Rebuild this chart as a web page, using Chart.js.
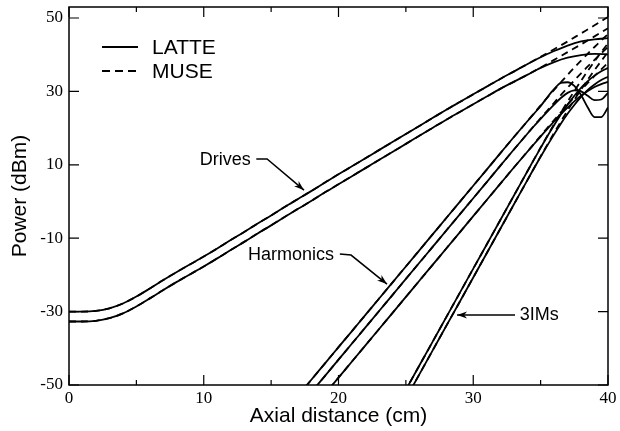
<!DOCTYPE html>
<html>
<head>
<meta charset="utf-8">
<script src="https://cdn.jsdelivr.net/npm/chart.js@4.4.0/dist/chart.umd.min.js"></script>
<style>
  body { margin: 0; background: #fff; }
  #wrap { width: 620px; height: 431px; }
</style>
</head>
<body>
<div id="wrap"><canvas id="chart" width="620" height="431"></canvas></div>
<script>
// data
const driveX = [0,1,2,3,4,5,6,7,8,9,10,11,12,13,14,15,16,17,18,19,20,21,22,23,24,25,26,27,28,29,30,31,32,33,34,35,36,37,38,39,40];
const latteDrive1 = [-30,-30,-29.8,-29.1,-27.8,-25.9,-23.7,-21.4,-19.2,-17.1,-15,-12.8,-10.5,-8.3,-6.0,-3.8,-1.5,0.7,2.9,5.2,7.4,9.6,11.8,14.0,16.2,18.4,20.6,22.8,25.0,27.1,29.2,31.3,33.4,35.4,37.4,39.3,41.0,42.5,43.6,44.2,44.5];
const latteDrive2 = [-32.7,-32.7,-32.5,-31.8,-30.5,-28.6,-26.4,-24.1,-21.9,-19.8,-17.7,-15.5,-13.2,-11.0,-8.7,-6.5,-4.2,-2.0,0.2,2.5,4.7,6.9,9.1,11.3,13.5,15.7,17.9,20.1,22.3,24.4,26.5,28.6,30.7,32.6,34.5,36.4,38.0,39.2,39.9,40.2,40.1];
const museDrive1 = [-30,-30,-29.8,-29.1,-27.8,-25.9,-23.7,-21.4,-19.2,-17.1,-15,-12.8,-10.5,-8.3,-6.0,-3.8,-1.5,0.7,2.9,5.2,7.4,9.6,11.8,14.0,16.2,18.4,20.6,22.8,25.0,27.1,29.2,31.3,33.4,35.4,37.4,39.4,41.5,43.6,45.8,48.0,50.3];
const museDrive2 = [-32.7,-32.7,-32.5,-31.8,-30.5,-28.6,-26.4,-24.1,-21.9,-19.8,-17.7,-15.5,-13.2,-11.0,-8.7,-6.5,-4.2,-2.0,0.2,2.5,4.7,6.9,9.1,11.3,13.5,15.7,17.9,20.1,22.3,24.4,26.5,28.6,30.7,32.6,34.5,36.5,38.6,40.7,42.8,45.0,47.2];

const harmX = [17,18,19,20,21,22,23,24,25,26,27,28,29,30,31,32,33,34,34.5,35,35.5,36,36.5,37,37.5,38,38.5,39,39.5,40];
const latteHarm1 = [-52.9,-48.5,-44.1,-39.7,-35.3,-30.9,-26.5,-22.1,-17.7,-13.3,-8.9,-4.5,-0.1,4.3,8.7,13.1,17.5,21.8,23.9,26.0,28.4,30.6,32.3,32.5,31.5,29.0,25.6,23.0,23.0,25.6];
const latteHarm2 = [-56.3,-51.9,-47.5,-43.1,-38.7,-34.3,-29.9,-25.5,-21.1,-16.7,-12.3,-7.9,-3.5,0.9,5.3,9.7,14.1,18.4,20.5,22.5,24.5,26.4,28.2,29.6,30.3,30.0,28.8,27.6,27.8,29.6];
const latteHarm3 = [-61.2,-56.8,-52.4,-48.0,-43.6,-39.2,-34.8,-30.4,-26.0,-21.6,-17.2,-12.8,-8.4,-4.0,0.4,4.8,9.2,13.5,15.6,17.7,19.8,21.8,23.8,25.6,27.3,28.8,30.1,31.2,32.0,32.6];
const museHarm1 = [-52.9,-48.5,-44.1,-39.7,-35.3,-30.9,-26.5,-22.1,-17.7,-13.3,-8.9,-4.5,-0.1,4.3,8.7,13.1,17.5,21.8,24.0,26.2,28.3,30.4,32.5,34.5,36.5,38.4,40.3,42.1,43.9,45.6];
const museHarm2 = [-56.3,-51.9,-47.5,-43.1,-38.7,-34.3,-29.9,-25.5,-21.1,-16.7,-12.3,-7.9,-3.5,0.9,5.3,9.7,14.1,18.4,20.6,22.7,24.8,26.9,29.0,31.0,33.0,34.9,36.8,38.6,40.4,42.1];
const museHarm3 = [-61.2,-56.8,-52.4,-48.0,-43.6,-39.2,-34.8,-30.4,-26.0,-21.6,-17.2,-12.8,-8.4,-4.0,0.4,4.8,9.2,13.5,15.7,17.9,20.1,22.2,24.3,26.4,28.4,30.4,32.3,34.2,36.0,37.8];

const imX = [24,25,26,27,28,29,30,31,32,33,34,34.5,35,35.5,36,36.5,37,37.5,38,38.5,39,39.5,40];
const latteIM1 = [-57.9,-51.3,-44.7,-38.1,-31.5,-24.9,-18.3,-11.7,-5.1,1.5,8.1,11.4,14.6,17.8,20.8,23.7,26.4,28.8,31.0,32.8,34.3,35.5,36.4];
const latteIM2 = [-60.3,-53.7,-47.1,-40.5,-33.9,-27.3,-20.7,-14.1,-7.5,-0.9,5.7,9.0,12.2,15.3,18.3,21.2,23.9,26.3,28.5,30.4,31.9,33.1,34.0];
const museIM1 = [-57.9,-51.3,-44.7,-38.1,-31.5,-24.9,-18.3,-11.7,-5.1,1.5,8.1,11.4,14.7,17.9,21.1,24.2,27.2,30.1,32.9,35.6,38.2,40.7,43.1];
const museIM2 = [-60.3,-53.7,-47.1,-40.5,-33.9,-27.3,-20.7,-14.1,-7.5,-0.9,5.7,9.0,12.3,15.5,18.7,21.8,24.8,27.7,30.5,33.2,35.8,38.3,40.7];

const xTicks = [0,10,20,30,40];
const xMinorTicks = [5,15,25,35];
const yTicks = [-50,-30,-10,10,30,50];

// helpers
function pts(xs, ys) {
  return xs.map((x, i) => ({ x: x, y: ys[i] }));
}

function line(xs, ys, dashed) {
  return {
    data: pts(xs, ys),
    borderColor: "#000",
    borderWidth: 1.8,
    borderDash: dashed ? [7, 5] : [],
    pointRadius: 0,
    fill: false,
    cubicInterpolationMode: "monotone",
  };
}

// frame, inward ticks, legend and labels
const decorations = {
  id: "decorations",
  afterDraw(chart) {
    const ctx = chart.ctx;
    const a = chart.chartArea;
    const xs = chart.scales.x;
    const ys = chart.scales.y;
    const px = (v) => xs.getPixelForValue(v);
    const py = (v) => ys.getPixelForValue(v);

    ctx.save();
    ctx.strokeStyle = "#000";
    ctx.fillStyle = "#000";
    ctx.lineWidth = 1.5;
    ctx.setLineDash([]);
    ctx.strokeRect(a.left, a.top, a.right - a.left, a.bottom - a.top);

    ctx.lineWidth = 1.2;
    ctx.beginPath();
    xTicks.forEach((v) => {
      ctx.moveTo(px(v), a.bottom); ctx.lineTo(px(v), a.bottom - 10);
      ctx.moveTo(px(v), a.top); ctx.lineTo(px(v), a.top + 10);
    });
    xMinorTicks.forEach((v) => {
      ctx.moveTo(px(v), a.bottom); ctx.lineTo(px(v), a.bottom - 5);
      ctx.moveTo(px(v), a.top); ctx.lineTo(px(v), a.top + 5);
    });
    yTicks.forEach((v) => {
      ctx.moveTo(a.left, py(v)); ctx.lineTo(a.left + 10, py(v));
      ctx.moveTo(a.right, py(v)); ctx.lineTo(a.right - 10, py(v));
    });
    ctx.stroke();

    // legend
    ctx.lineWidth = 1.8;
    ctx.beginPath();
    ctx.moveTo(a.left + 33, a.top + 40); ctx.lineTo(a.left + 69, a.top + 40);
    ctx.stroke();
    ctx.setLineDash([8, 5]);
    ctx.beginPath();
    ctx.moveTo(a.left + 33, a.top + 64); ctx.lineTo(a.left + 71, a.top + 64);
    ctx.stroke();
    ctx.setLineDash([]);
    ctx.font = "21px 'Liberation Sans', Arial, sans-serif";
    ctx.textAlign = "left";
    ctx.textBaseline = "middle";
    ctx.fillText("LATTE", a.left + 83, a.top + 41);
    ctx.fillText("MUSE", a.left + 83, a.top + 65);

    // annotations with arrows
    ctx.font = "18px 'Liberation Sans', Arial, sans-serif";
    ctx.textAlign = "center";
    ctx.fillText("Drives", px(11.6), py(11.3));
    ctx.fillText("Harmonics", px(16.47), py(-14.6));
    ctx.fillText("3IMs", px(34.9), py(-30.9));

    function arrow(path) {
      ctx.lineWidth = 1.5;
      ctx.beginPath();
      ctx.moveTo(px(path[0][0]), py(path[0][1]));
      for (let i = 1; i < path.length; i++) ctx.lineTo(px(path[i][0]), py(path[i][1]));
      ctx.stroke();
      const n = path.length;
      const x1 = px(path[n - 2][0]), y1 = py(path[n - 2][1]);
      const x2 = px(path[n - 1][0]), y2 = py(path[n - 1][1]);
      const ang = Math.atan2(y2 - y1, x2 - x1);
      ctx.beginPath();
      ctx.moveTo(x2, y2);
      ctx.lineTo(x2 - 10 * Math.cos(ang) + 3.5 * Math.sin(ang), y2 - 10 * Math.sin(ang) - 3.5 * Math.cos(ang));
      ctx.lineTo(x2 - 7 * Math.cos(ang), y2 - 7 * Math.sin(ang));
      ctx.lineTo(x2 - 10 * Math.cos(ang) - 3.5 * Math.sin(ang), y2 - 10 * Math.sin(ang) + 3.5 * Math.cos(ang));
      ctx.closePath();
      ctx.fill();
    }
    arrow([[13.9, 11.6], [14.7, 11.6], [17.44, 3.1]]);
    arrow([[20.1, -14.3], [20.93, -14.6], [23.6, -22.5]]);
    arrow([[33.1, -30.9], [28.8, -30.9]]);
    ctx.restore();
  },
};

Chart.defaults.color = "#000";
Chart.defaults.animation = false;

new Chart(document.getElementById("chart"), {
  type: "line",
  data: {
    datasets: [
      line(driveX, museDrive1, true),
      line(driveX, museDrive2, true),
      line(harmX, museHarm1, true),
      line(harmX, museHarm2, true),
      line(harmX, museHarm3, true),
      line(imX, museIM1, true),
      line(imX, museIM2, true),
      line(driveX, latteDrive1, false),
      line(driveX, latteDrive2, false),
      line(harmX, latteHarm1, false),
      line(harmX, latteHarm2, false),
      line(harmX, latteHarm3, false),
      line(imX, latteIM1, false),
      line(imX, latteIM2, false),
    ],
  },
  options: {
    responsive: false,
    layout: { padding: { left: 0, right: 12, top: 7, bottom: 0 } },
    plugins: { legend: { display: false }, tooltip: { enabled: false } },
    scales: {
      x: {
        type: "linear",
        min: 0,
        max: 40,
        afterBuildTicks: (s) => { s.ticks = xTicks.map((v) => ({ value: v })); },
        afterFit: (s) => { s.height = 46; s.paddingLeft = 0; s.paddingRight = 0; },
        grid: { display: false, drawTicks: false },
        border: { display: false },
        ticks: { padding: 3, maxRotation: 0, font: { family: "'Liberation Serif', 'Times New Roman', serif", size: 17 } },
        title: { display: true, text: "Axial distance (cm)", font: { family: "'Liberation Sans', Arial, sans-serif", size: 21 }, padding: { top: 0, bottom: 2 } },
      },
      y: {
        type: "linear",
        min: -50,
        max: 53,
        afterBuildTicks: (s) => { s.ticks = yTicks.map((v) => ({ value: v })); },
        afterFit: (s) => { s.width = 69; s.paddingTop = 0; s.paddingBottom = 0; },
        grid: { display: false, drawTicks: false },
        border: { display: false },
        ticks: { padding: 6, font: { family: "'Liberation Serif', 'Times New Roman', serif", size: 17 } },
        title: { display: true, text: "Power (dBm)", font: { family: "'Liberation Sans', Arial, sans-serif", size: 21 }, padding: { top: 8, bottom: 0 } },
      },
    },
  },
  plugins: [decorations],
});
</script>
</body>
</html>
